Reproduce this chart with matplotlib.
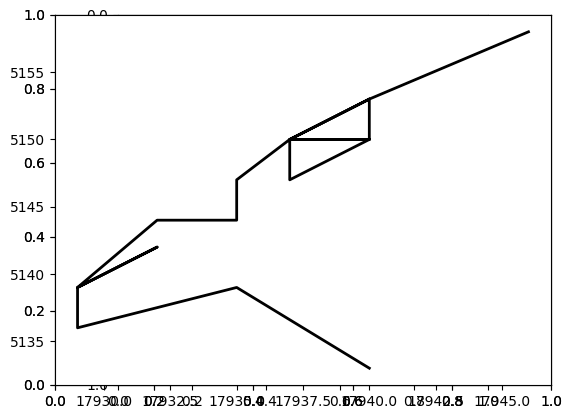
import matplotlib
matplotlib.use("Agg")
import matplotlib.pyplot as plt

# data (dates as day numbers, price values)
x_days = [17940, 17935, 17929, 17929, 17932, 17929, 17932, 17935, 17935,
          17937, 17940, 17937, 17940, 17937, 17937, 17940, 17940, 17946]
y_vals = [5133, 5139, 5136, 5139, 5142, 5139, 5144, 5144, 5147,
          5150, 5153, 5150, 5150, 5150, 5147, 5150, 5153, 5158]

W, H = 571, 418
fig = plt.figure(figsize=(W / 100, H / 100), dpi=100)
rect = [55 / W, (H - 385) / H, 496 / W, 370 / H]

# two empty default axes (overdrawn labels)
ax_b1 = fig.add_axes(rect)
ax_b2 = fig.add_axes(rect)

# equal-aspect axes with inverted y
ax_a = fig.add_axes(rect)
ax_a.set_xlim(0, 1)
ax_a.set_ylim(1, 0)
ax_a.set_aspect('equal')

# data axes on top
ax_c = fig.add_axes(rect)
ax_c.plot(x_days, y_vals, color='black', linewidth=2)
ax_c.set_xticks([17930.0, 17932.5, 17935.0, 17937.5, 17940.0, 17942.5, 17945.0])
ax_c.set_yticks([5135, 5140, 5145, 5150, 5155])

fig.savefig("out.png", dpi=100)
